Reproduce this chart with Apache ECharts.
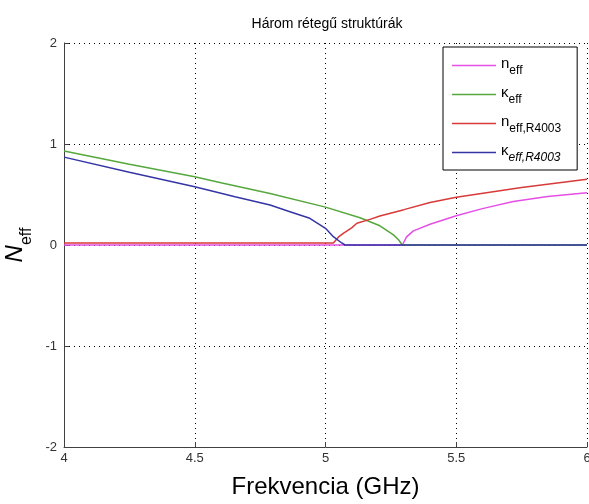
<!DOCTYPE html>
<html>
<head>
<meta charset="utf-8">
<script src="https://cdn.jsdelivr.net/npm/echarts@6/dist/echarts.min.js"></script>
<style>
html, body { margin: 0; padding: 0; background: #fff; }
#main { width: 589px; height: 504px; }
</style>
</head>
<body>
<div id="main"></div>
<script>
// adatok
var nEffX = [4.0, 4.5, 5.0, 5.294, 5.31, 5.336, 5.4, 5.5, 5.6, 5.718, 5.85, 6.0];
var nEffY = [0.0, 0.0, 0.0, 0.0, 0.08, 0.14, 0.205, 0.29, 0.36, 0.43, 0.48, 0.518];

var kEffX = [4.0, 4.25, 4.5, 4.6, 4.788, 5.0, 5.132, 5.208, 5.26, 5.28, 5.294, 5.6, 6.0];
var kEffY = [0.93, 0.80, 0.676, 0.617, 0.51, 0.375, 0.27, 0.19, 0.10, 0.05, 0.0, 0.0, 0.0];

var nRX = [4.0, 4.5, 5.03, 5.05, 5.068, 5.1, 5.12, 5.17, 5.208, 5.3, 5.4, 5.5, 5.75, 6.0];
var nRY = [0.02, 0.02, 0.02, 0.08, 0.115, 0.17, 0.215, 0.254, 0.287, 0.35, 0.42, 0.472, 0.57, 0.65];

var kRX = [4.0, 4.25, 4.5, 4.654, 4.788, 4.864, 4.94, 5.0, 5.03, 5.062, 5.075, 5.5, 6.0];
var kRY = [0.87, 0.72, 0.577, 0.478, 0.396, 0.33, 0.264, 0.165, 0.082, 0.02, 0.0, 0.0, 0.0];

var xTicks = [4, 4.5, 5, 5.5, 6];
var yTicks = [-2, -1, 0, 1, 2];

function pairs(xs, ys) {
    var out = [];
    for (var i = 0; i < xs.length; i++) out.push([xs[i], ys[i]]);
    return out;
}

var myChart = echarts.init(document.getElementById('main'));
var font = 'Liberation Sans, Arial, sans-serif';

// alsó index: a kisebb betű dobozát felül kitöltjük, így lejjebb kerül
var subRich = {
    m: { fontFamily: font, fontSize: 15, color: '#000', verticalAlign: 'top', lineHeight: 19 },
    s: { fontFamily: font, fontSize: 12, color: '#000', verticalAlign: 'top', lineHeight: 14, padding: [9, 0, 0, 0] },
    si: { fontFamily: font, fontSize: 12, color: '#000', fontStyle: 'italic', verticalAlign: 'top', lineHeight: 14, padding: [9, 0, 0, 0] }
};
var legendLabels = {
    'n_eff': '{m|n}{s|eff}',
    'k_eff': '{m|κ}{s|eff}',
    'n_R': '{m|n}{s|eff,R4003}',
    'k_R': '{m|κ}{si|eff,R4003}'
};

myChart.setOption({
    animation: false,
    title: {
        text: 'Három rétegű struktúrák',
        left: 322,
        top: 12,
        textAlign: 'center',
        textStyle: { fontFamily: font, fontSize: 14, fontWeight: 'normal', color: '#000' }
    },
    grid: { left: 64, right: 2, top: 43, bottom: 57, outerBoundsMode: 'none' },
    legend: {
        orient: 'vertical',
        left: 443,
        top: 47,
        padding: [9, 16, 6, 9],
        itemWidth: 44,
        itemHeight: 1.5,
        itemGap: 8,
        icon: 'rect',
        backgroundColor: '#fff',
        borderColor: '#000',
        borderWidth: 1,
        data: ['n_eff', 'k_eff', 'n_R', 'k_R'],
        formatter: function (name) { return legendLabels[name]; },
        textStyle: { rich: subRich }
    },
    xAxis: {
        type: 'value',
        min: 4, max: 6, interval: 0.5,
        name: 'Frekvencia (GHz)',
        nameLocation: 'middle',
        nameGap: 28,
        nameTextStyle: { fontFamily: font, fontSize: 24, color: '#000' },
        axisLine: { onZero: false, lineStyle: { color: '#404040', width: 1 } },
        axisTick: { inside: true, length: 5, lineStyle: { color: '#404040' } },
        axisLabel: {
            fontFamily: font, fontSize: 13, color: '#333', margin: 5,
            formatter: function (v) { return xTicks.indexOf(v) >= 0 ? String(v) : ''; }
        },
        splitLine: { show: true, lineStyle: { color: '#000', type: [1, 4], width: 1 } }
    },
    yAxis: {
        type: 'value',
        min: -2, max: 2, interval: 1,
        name: '{n|N}{s|eff}',
        nameLocation: 'middle',
        nameRotate: 90,
        nameGap: 26,
        nameTextStyle: {
            rich: {
                n: { fontFamily: font, fontSize: 24, fontStyle: 'italic', color: '#000', verticalAlign: 'top', lineHeight: 28 },
                s: { fontFamily: font, fontSize: 16, color: '#000', verticalAlign: 'top', lineHeight: 18, padding: [15, 0, 0, 0] }
            }
        },
        axisLine: { show: true, onZero: false, lineStyle: { color: '#404040', width: 1 } },
        axisTick: { show: true, inside: true, length: 5, lineStyle: { color: '#404040' } },
        axisLabel: {
            fontFamily: font, fontSize: 13, color: '#333', margin: 7,
            formatter: function (v) { return yTicks.indexOf(v) >= 0 ? String(v) : ''; }
        },
        splitLine: { show: true, lineStyle: { color: '#000', type: [1, 4], width: 1 } }
    },
    series: [
        {
            name: 'n_eff', type: 'line', symbol: 'none',
            data: pairs(nEffX, nEffY),
            lineStyle: { color: '#e54fe5', width: 1.5 }, itemStyle: { color: '#e54fe5' }
        },
        {
            name: 'k_eff', type: 'line', symbol: 'none',
            data: pairs(kEffX, kEffY),
            lineStyle: { color: '#55a83c', width: 1.5 }, itemStyle: { color: '#55a83c' }
        },
        {
            name: 'n_R', type: 'line', symbol: 'none',
            data: pairs(nRX, nRY),
            lineStyle: { color: '#d83a3a', width: 1.5 }, itemStyle: { color: '#d83a3a' }
        },
        {
            name: 'k_R', type: 'line', symbol: 'none',
            data: pairs(kRX, kRY),
            lineStyle: { color: '#3535a5', width: 1.5 }, itemStyle: { color: '#3535a5' }
        }
    ]
});
</script>
</body>
</html>
